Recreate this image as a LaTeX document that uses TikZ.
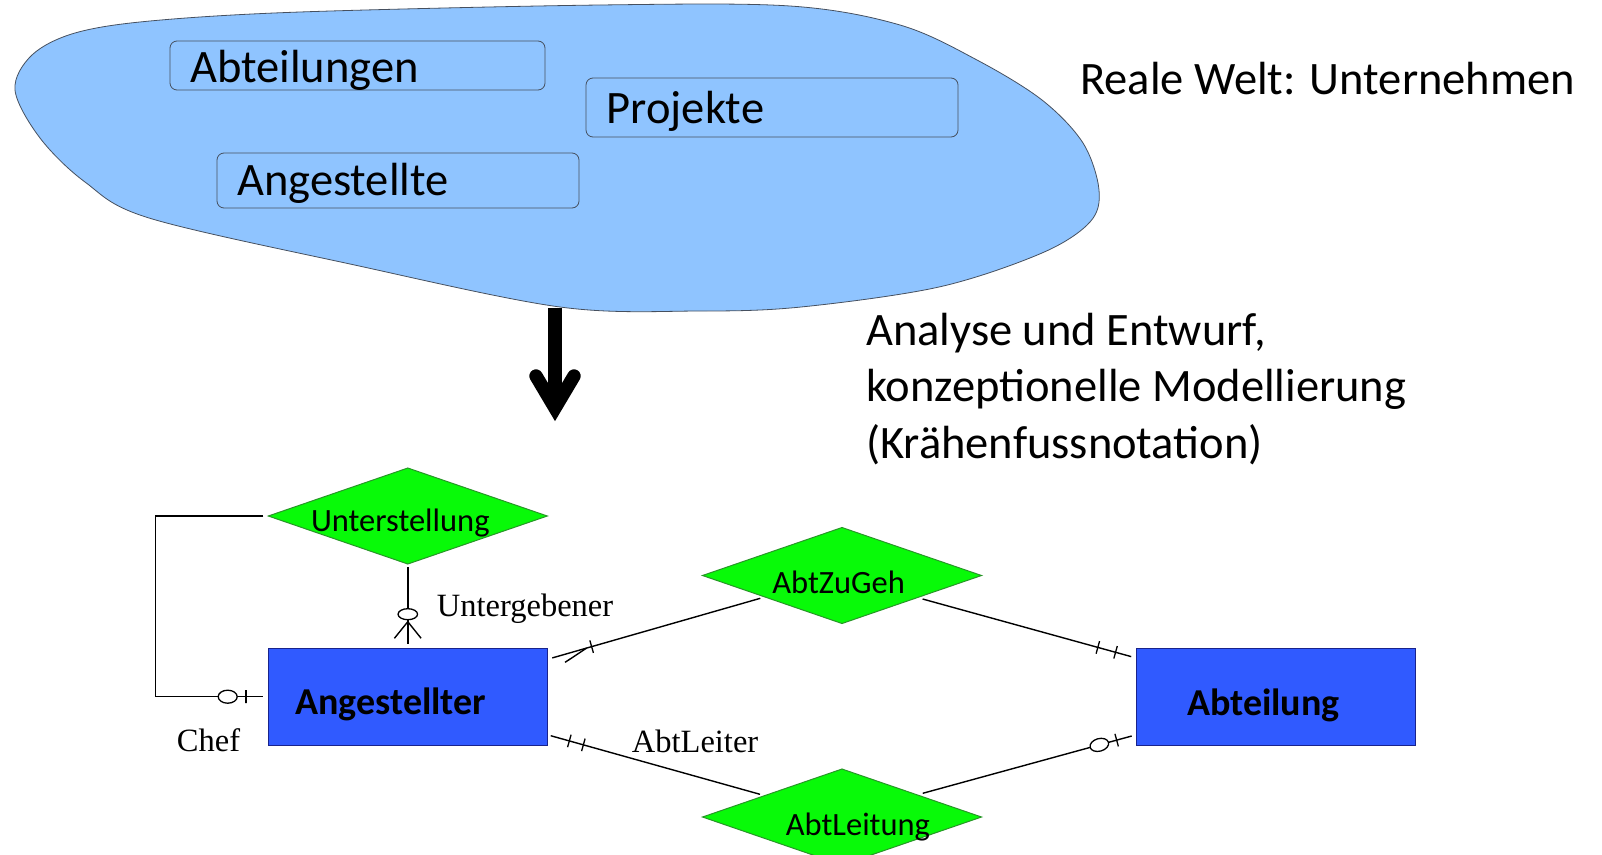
\documentclass[tikz,border=0pt]{standalone}
\usepackage{fontspec}
\setmainfont{Carlito}
\newfontfamily\seriffont{Liberation Serif}
\usetikzlibrary{shapes.geometric,calc}
\definecolor{blobblue}{RGB}{143,196,255}
\definecolor{bloborder}{RGB}{70,80,95}
\definecolor{relgreen}{RGB}{8,250,8}
\definecolor{relborder}{RGB}{40,150,40}
\definecolor{entblue}{RGB}{48,90,255}
\definecolor{entborder}{RGB}{25,35,140}
\begin{document}
\begin{tikzpicture}[x=1pt,y=-1pt,
  worldbox/.style={draw=bloborder, line width=0.8pt, rounded corners=7pt, inner sep=0pt, outer sep=0pt, anchor=north west},
  bigtext/.style={font=\fontsize{46.5}{56.5}\selectfont, inner sep=0pt, anchor=base west},
  relship/.style={diamond, draw=relborder, fill=relgreen, line width=1pt, minimum width=279pt, minimum height=96pt, inner sep=0pt, outer sep=0pt},
  entity/.style={rectangle, draw=entborder, fill=entblue, line width=1.4pt, minimum width=279pt, minimum height=97pt, inner sep=0pt, outer sep=0pt},
  rellabel/.style={font=\fontsize{32.5}{36}\selectfont, inner sep=0pt, anchor=base},
  entlabel/.style={font=\fontsize{38}{42}\selectfont\bfseries, inner sep=0pt, anchor=base},
  rolelabel/.style={font=\seriffont\fontsize{32.5}{36}\selectfont, inner sep=0pt, anchor=base west},
  conn/.style={draw=black, line width=1.4pt},
  barmark/.style={rectangle, draw=black, line width=1.3pt, minimum width=0pt, minimum height=13pt, inner sep=0pt, sloped},
  ringmark/.style={ellipse, draw=black, fill=white, line width=1.3pt, minimum width=19pt, minimum height=12.6pt, inner sep=0pt, sloped}
]
\useasboundingbox (0,0) rectangle (1602,854);

% real world blob
\draw[fill=blobblue, draw=bloborder, line width=0.8pt]
  plot[smooth cycle, tension=0.55] coordinates {
   (15,90) (32,55) (75,33) (150,21) (300,12) (600,5) (790,6) (900,25) (977,60)
   (1042,100) (1083,143) (1099,190) (1090,222) (1042,253) (939,287)
   (801,307) (700,311) (560,307) (350,264) (149,218) (85,182) (40,138)};

\node[worldbox, minimum width=375pt, minimum height=49pt] (abtbox) at (170,41) {};
\node[bigtext] (abttext) at (190,82) {Abteilungen};
\node[worldbox, minimum width=372pt, minimum height=59pt] (probox) at (586,78) {};
\node[bigtext] (protext) at (606.5,123) {Projekte};
\node[worldbox, minimum width=362pt, minimum height=55pt] (angbox) at (217,153) {};
\node[bigtext] (angtext) at (237,195) {Angestellte};

\node[bigtext] (world) at (1080,94) {Reale Welt: Unternehmen};
\node[bigtext] (design1) at (866,345) {Analyse und Entwurf,};
\node[bigtext] (design2) at (866,401.5) {konzeptionelle Modellierung};
\node[bigtext] (design3) at (866,458) {(Kr\"ahenfussnotation)};

% big arrow
\draw[line width=13.4pt] (555,308) -- (555,408);
\draw[line width=13.4pt, line cap=round, line join=miter] (536,376) -- (555,408) -- (574,376);

% ER diagram
\node[relship] (unt) at (407.8,516) {};
\node[relship] (zug) at (842,575.5) {};
\node[relship] (lei) at (842,817) {};
\node[entity] (ang) at (407.8,696.7) {};
\node[entity] (abt) at (1276,696.7) {};

\node[rellabel] (untl) at (400.3,531.7) {Unterstellung};
\node[rellabel] (zugl) at (838.6,593.3) {AbtZuGeh};
\node[rellabel] (leil) at (857.9,835) {AbtLeitung};
\node[entlabel] (angl) at (390.8,714) {Angestellter};
\node[entlabel] (abtl) at (1263.3,715) {Abteilung};

\node[rolelabel] (untergeb) at (436.7,616) {Untergebener};
\node[rolelabel] (chef) at (176.7,751.7) {Chef};
\node[rolelabel] (abtleiter) at (631.7,752.3) {AbtLeiter};

% Unterstellung -- Angestellter (Untergebener)
\draw[conn] ($(unt.south)+(0,3.3)$) -- ($(ang.north)+(0,-4)$);
\draw[conn] ($(ang.north)+(0,-26.5)$) -- ++(-13.4,16.6);
\draw[conn] ($(ang.north)+(0,-26.5)$) -- ++(13.3,16.6);
\node[ringmark, minimum height=11pt, minimum width=19.5pt] (ring1) at ($(ang.north)+(0,-34)$) {};

% Unterstellung -- Angestellter (Chef)
\draw[conn] ($(unt.west)+(-5,0)$) -- ($(unt.west)+(-112.6,0)$) |- ($(ang.west)+(-5,0)$);
\node[ringmark, minimum height=13pt] (ring2) at ($(ang.west)+(-40.6,0)$) {};
\node[barmark] (bar2) at ($(ang.west)+(-22.3,0)$) {};

% Angestellter -- AbtZuGeh
\draw[conn] ($(ang.north east)+(5,9.7)$) coordinate (c3a) -- ($(zug.center)+(-81.7,22.8)$) coordinate (c3b)
   node[barmark, pos=0.189] {};
\draw[conn] ($(c3a)!0.165!(c3b)$) -- ++(-21.6,14.3);

% AbtZuGeh -- Abteilung
\draw[conn] ($(zug.center)+(80.6,23.5)$) -- ($(abt.north west)+(-5.3,8.4)$)
   node[barmark, pos=0.84] {} node[barmark, pos=0.925] {};

% Angestellter -- AbtLeitung
\draw[conn] ($(ang.south east)+(3.4,-9.5)$) -- ($(lei.center)+(-82,-22.7)$)
   node[barmark, pos=0.089] {} node[barmark, pos=0.156] {};

% AbtLeitung -- Abteilung
\draw[conn] ($(lei.center)+(80.7,-23.7)$) -- ($(abt.south west)+(-4.8,-9.2)$)
   node[ringmark, pos=0.845] {} node[barmark, pos=0.928] {};
\end{tikzpicture}
\end{document}
